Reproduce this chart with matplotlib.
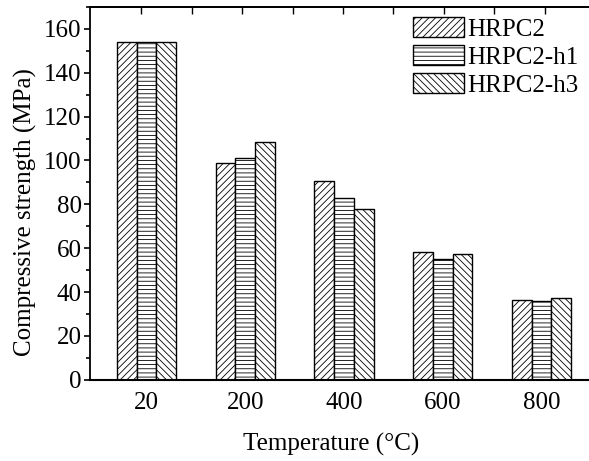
import numpy as np
import matplotlib.pyplot as plt
from matplotlib.ticker import MultipleLocator

plt.rcParams['font.family'] = ['Liberation Serif', 'DejaVu Serif']
plt.rcParams['font.size'] = 18
plt.rcParams['hatch.linewidth'] = 0.6

# datos
temperaturas = ['20', '200', '400', '600', '800']
series = ['HRPC2', 'HRPC2-h1', 'HRPC2-h3']
hrpc2 = [154.0, 99.0, 90.5, 58.5, 36.5]
hrpc2_h1 = [154.0, 101.0, 83.0, 55.0, 36.0]
hrpc2_h3 = [154.0, 108.5, 78.0, 57.5, 37.5]
tramas = ['/////', '----', '\\\\\\\\\\']

valores = [hrpc2, hrpc2_h1, hrpc2_h3]

fig = plt.figure(figsize=(5.89, 4.61), dpi=100)
ax = fig.add_axes([0.153, 0.176, 0.847, 0.809])

x = np.arange(len(temperaturas))
ancho = 0.2
for k, (nombre, vals, trama) in enumerate(zip(series, valores, tramas)):
    ax.bar(x + (k - 1) * ancho, vals, width=ancho, facecolor='white',
           edgecolor='black', linewidth=1.0, hatch=trama, label=nombre)

ax.set_xlim(-0.57, 4.48)
ax.set_ylim(0, 170)

ax.set_xticks(x)
ax.set_xticklabels(temperaturas)
ax.tick_params(axis='x', which='both', length=0, pad=9, labelsize=18)

# ticks en el borde superior
arriba = ax.secondary_xaxis('top')
arriba.set_xticks(np.arange(-0.05, 4.5, 0.51))
arriba.tick_params(axis='x', direction='in', length=5, width=1, labeltop=False)
arriba.spines['top'].set_linewidth(1.3)

ax.yaxis.set_major_locator(MultipleLocator(20))
ax.yaxis.set_minor_locator(MultipleLocator(10))
ax.tick_params(axis='y', which='major', direction='out', length=4, width=1.2,
               labelsize=18, pad=2)
ax.tick_params(axis='y', which='minor', direction='out', length=3, width=1.2)

ax.spines['right'].set_visible(False)
ax.spines['top'].set_linewidth(1.3)
ax.spines['left'].set_linewidth(1.3)
ax.spines['bottom'].set_linewidth(1.5)

ax.set_xlabel('Temperature (°C)', fontsize=18)
ax.set_ylabel('Compressive strength (MPa)', fontsize=18)
ax.xaxis.set_label_coords(0.484, -0.141)
ax.yaxis.set_label_coords(-0.106, 0.45)

ax.legend(loc='upper left', bbox_to_anchor=(0.701, 0.963),
          bbox_transform=fig.transFigure, frameon=False, fontsize=18,
          handlelength=2.04, handleheight=0.85, labelspacing=0.18,
          handletextpad=0.12, borderaxespad=0, borderpad=0)

fig.savefig('out.png', dpi=100)
